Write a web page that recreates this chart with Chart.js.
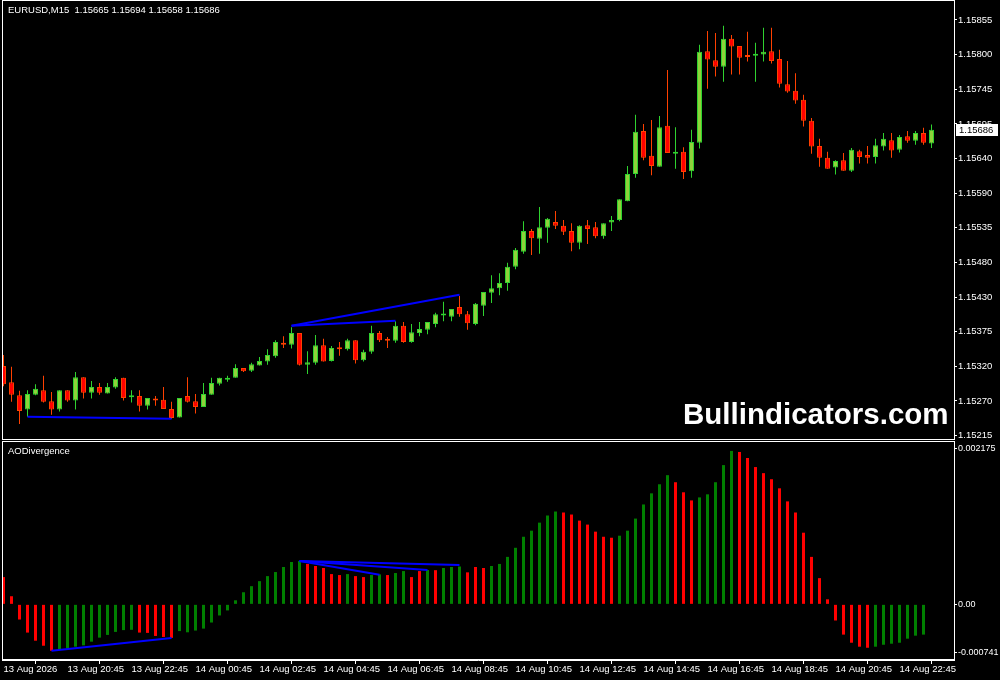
<!DOCTYPE html>
<html lang="en">
<head>
<meta charset="UTF-8">
<title>EURUSD M15 - AODivergence</title>
<script src="https://cdn.jsdelivr.net/npm/chart.js"></script>
<style>
    body { margin: 0; background: #000; }
    #wrap { position: relative; width: 1000px; height: 680px; background: #000; overflow: hidden; }
    #price-chart { position: absolute; left: 0; top: 0; }
    #ao-chart { position: absolute; left: 0; top: 440px; }
</style>
</head>
<body>
<div id="wrap">
    <canvas id="price-chart" width="1000" height="440"></canvas>
    <canvas id="ao-chart" width="1000" height="240"></canvas>
</div>
<script>
// ---- data (bar 0 = 13 Aug 18:45, M15) ----
const symbolTitle = 'EURUSD,M15';
const indicatorName = 'AODivergence';
const watermark = 'Bullindicators.com';

const openPrices = [
    1.15322, 1.15297, 1.15277, 1.15255, 1.15278, 1.15285, 1.15268, 1.15255, 1.15285, 1.15269,
    1.15305, 1.15281, 1.15290, 1.15280, 1.15289, 1.15304, 1.15274, 1.15276, 1.15261, 1.15272,
    1.15270, 1.15256, 1.15243, 1.15276, 1.15268, 1.15259, 1.15278, 1.15295, 1.15301, 1.15304,
    1.15319, 1.15315, 1.15323, 1.15329, 1.15337, 1.15358, 1.15355, 1.15373, 1.15324, 1.15327,
    1.15354, 1.15330, 1.15351, 1.15348, 1.15362, 1.15331, 1.15344, 1.15373, 1.15364, 1.15361,
    1.15384, 1.15359, 1.15373, 1.15378, 1.15387, 1.15400, 1.15398, 1.15413, 1.15402, 1.15387,
    1.15415, 1.15435, 1.15442, 1.15450, 1.15475, 1.15498, 1.15530, 1.15518, 1.15535, 1.15544,
    1.15538, 1.15530, 1.15512, 1.15539, 1.15536, 1.15522, 1.15543, 1.15547, 1.15576, 1.15618,
    1.15684, 1.15646, 1.15629, 1.15692, 1.15649, 1.15652, 1.15622, 1.15666, 1.15807, 1.15793,
    1.15783, 1.15826, 1.15815, 1.15801, 1.15800, 1.15802, 1.15807, 1.15795, 1.15756, 1.15746,
    1.15732, 1.15700, 1.15661, 1.15643, 1.15628, 1.15639, 1.15623, 1.15653, 1.15647, 1.15644,
    1.15660, 1.15670, 1.15655, 1.15676, 1.15669, 1.15681, 1.15665
];
const highPrices = [
    1.15339, 1.15321, 1.15284, 1.15285, 1.15294, 1.15307, 1.15282, 1.15285, 1.15285, 1.15313,
    1.15305, 1.15299, 1.15296, 1.15296, 1.15305, 1.15304, 1.15285, 1.15285, 1.15273, 1.15276,
    1.15290, 1.15267, 1.15273, 1.15305, 1.15279, 1.15296, 1.15304, 1.15304, 1.15307, 1.15325,
    1.15319, 1.15327, 1.15336, 1.15348, 1.15362, 1.15368, 1.15382, 1.15373, 1.15345, 1.15370,
    1.15364, 1.15353, 1.15359, 1.15364, 1.15362, 1.15347, 1.15384, 1.15376, 1.15367, 1.15391,
    1.15390, 1.15387, 1.15390, 1.15390, 1.15404, 1.15421, 1.15410, 1.15430, 1.15407, 1.15419,
    1.15436, 1.15462, 1.15465, 1.15481, 1.15504, 1.15545, 1.15533, 1.15567, 1.15550, 1.15561,
    1.15547, 1.15542, 1.15539, 1.15547, 1.15544, 1.15542, 1.15553, 1.15579, 1.15630, 1.15709,
    1.15695, 1.15701, 1.15707, 1.15778, 1.15690, 1.15659, 1.15686, 1.15817, 1.15838, 1.15835,
    1.15846, 1.15832, 1.15815, 1.15837, 1.15820, 1.15843, 1.15843, 1.15809, 1.15792, 1.15773,
    1.15740, 1.15704, 1.15672, 1.15652, 1.15639, 1.15650, 1.15658, 1.15655, 1.15661, 1.15672,
    1.15681, 1.15681, 1.15678, 1.15684, 1.15684, 1.15689, 1.15694
];
const lowPrices = [
    1.15291, 1.15267, 1.15233, 1.15244, 1.15277, 1.15266, 1.15247, 1.15252, 1.15267, 1.15255,
    1.15272, 1.15272, 1.15278, 1.15280, 1.15287, 1.15269, 1.15266, 1.15252, 1.15255, 1.15261,
    1.15256, 1.15241, 1.15243, 1.15266, 1.15249, 1.15259, 1.15278, 1.15292, 1.15298, 1.15304,
    1.15313, 1.15313, 1.15323, 1.15324, 1.15335, 1.15350, 1.15349, 1.15323, 1.15310, 1.15324,
    1.15329, 1.15329, 1.15338, 1.15346, 1.15326, 1.15329, 1.15341, 1.15359, 1.15350, 1.15358,
    1.15358, 1.15358, 1.15368, 1.15371, 1.15382, 1.15391, 1.15391, 1.15398, 1.15378, 1.15385,
    1.15399, 1.15419, 1.15431, 1.15438, 1.15471, 1.15495, 1.15493, 1.15495, 1.15512, 1.15533,
    1.15524, 1.15499, 1.15502, 1.15510, 1.15519, 1.15518, 1.15530, 1.15545, 1.15576, 1.15612,
    1.15639, 1.15616, 1.15629, 1.15650, 1.15626, 1.15610, 1.15612, 1.15657, 1.15749, 1.15768,
    1.15760, 1.15771, 1.15771, 1.15791, 1.15760, 1.15791, 1.15788, 1.15751, 1.15743, 1.15726,
    1.15691, 1.15649, 1.15629, 1.15626, 1.15617, 1.15623, 1.15621, 1.15634, 1.15634, 1.15634,
    1.15654, 1.15643, 1.15651, 1.15666, 1.15663, 1.15663, 1.15658
];
const closePrices = [
    1.15294, 1.15278, 1.15253, 1.15279, 1.15287, 1.15267, 1.15255, 1.15285, 1.15269, 1.15305,
    1.15281, 1.15290, 1.15281, 1.15290, 1.15302, 1.15273, 1.15275, 1.15261, 1.15273, 1.15269,
    1.15256, 1.15242, 1.15273, 1.15267, 1.15259, 1.15279, 1.15296, 1.15304, 1.15304, 1.15319,
    1.15314, 1.15325, 1.15330, 1.15339, 1.15359, 1.15355, 1.15373, 1.15324, 1.15328, 1.15354,
    1.15329, 1.15350, 1.15348, 1.15362, 1.15331, 1.15344, 1.15373, 1.15362, 1.15361, 1.15384,
    1.15359, 1.15374, 1.15379, 1.15390, 1.15402, 1.15401, 1.15410, 1.15402, 1.15388, 1.15418,
    1.15436, 1.15442, 1.15450, 1.15475, 1.15501, 1.15530, 1.15519, 1.15536, 1.15549, 1.15538,
    1.15529, 1.15512, 1.15538, 1.15533, 1.15522, 1.15542, 1.15547, 1.15579, 1.15618, 1.15683,
    1.15643, 1.15630, 1.15690, 1.15650, 1.15652, 1.15621, 1.15667, 1.15806, 1.15794, 1.15783,
    1.15826, 1.15814, 1.15797, 1.15798, 1.15802, 1.15806, 1.15792, 1.15757, 1.15745, 1.15731,
    1.15700, 1.15660, 1.15643, 1.15626, 1.15638, 1.15623, 1.15655, 1.15644, 1.15643, 1.15662,
    1.15672, 1.15654, 1.15675, 1.15669, 1.15681, 1.15666, 1.15686
];

// Awesome Oscillator histogram, last bar not drawn yet
const aoValues = [
     0.000363,  0.000108, -0.000202, -0.000376, -0.000484, -0.000551, -0.000618, -0.000599, -0.000586, -0.000564,
    -0.000546, -0.000497, -0.000443, -0.000407, -0.000367, -0.000343, -0.000339, -0.000376, -0.000380, -0.000421,
    -0.000434, -0.000447, -0.000356, -0.000372, -0.000349, -0.000323, -0.000242, -0.000148, -0.000081,  0.000054,
     0.000161,  0.000242,  0.000309,  0.000376,  0.000430,  0.000497,  0.000564,  0.000578,  0.000538,  0.000511,
     0.000484,  0.000403,  0.000390,  0.000403,  0.000376,  0.000363,  0.000390,  0.000399,  0.000390,  0.000417,
     0.000443,  0.000363,  0.000443,  0.000457,  0.000455,  0.000484,  0.000497,  0.000504,  0.000426,  0.000497,
     0.000484,  0.000511,  0.000538,  0.000632,  0.000753,  0.000900,  0.000981,  0.001088,  0.001183,  0.001236,
     0.001223,  0.001196,  0.001115,  0.001062,  0.000968,  0.000900,  0.000887,  0.000914,  0.000981,  0.001142,
     0.001330,  0.001478,  0.001599,  0.001720,  0.001626,  0.001492,  0.001384,  0.001424,  0.001465,  0.001626,
     0.001854,  0.002043,  0.002029,  0.001949,  0.001828,  0.001747,  0.001666,  0.001545,  0.001371,  0.001223,
     0.000954,  0.000632,  0.000349,  0.000067, -0.000215, -0.000403, -0.000511, -0.000564, -0.000578, -0.000564,
    -0.000538, -0.000524, -0.000511, -0.000457, -0.000417, -0.000403, null
];
// 1 = green (rising) bar, 0 = red bar, as drawn by the indicator
const aoRising = [
    0, 0, 0, 0, 0, 0, 0, 1, 1, 1,
    1, 1, 1, 1, 1, 1, 1, 0, 0, 0,
    0, 0, 1, 1, 1, 1, 1, 1, 1, 1,
    1, 1, 1, 1, 1, 1, 1, 1, 0, 0,
    0, 0, 0, 1, 0, 0, 1, 1, 0, 1,
    1, 0, 0, 1, 0, 1, 1, 1, 0, 0,
    0, 1, 1, 1, 1, 1, 1, 1, 1, 1,
    0, 0, 0, 0, 0, 0, 0, 1, 1, 1,
    1, 1, 1, 1, 0, 0, 0, 1, 1, 1,
    1, 1, 0, 0, 0, 0, 0, 0, 0, 0,
    0, 0, 0, 0, 0, 0, 0, 0, 0, 1,
    1, 1, 1, 1, 1, 1, null
];

// divergence trend lines: [bar, value] end points
const priceDivLines = [
    [[3, 1.15244], [21, 1.15241]],
    [[36, 1.15384], [57, 1.15432]],
    [[36, 1.15384], [49, 1.15392]]
];
const aoDivLines = [
    [[6, -0.000618], [21, -0.000447]],
    [[37, 0.000578], [57, 0.000525]],
    [[37, 0.000578], [53, 0.000457]],
    [[37, 0.000578], [47, 0.000394]]
];

const priceLabels = ['1.15855', '1.15800', '1.15745', '1.15695', '1.15640', '1.15590', '1.15535',
                     '1.15480', '1.15430', '1.15375', '1.15320', '1.15270', '1.15215'];
const aoLabels = ['0.002175', '0.00', '-0.000741'];
const timeLabels = ['13 Aug 2026', '13 Aug 20:45', '13 Aug 22:45', '14 Aug 00:45', '14 Aug 02:45',
                    '14 Aug 04:45', '14 Aug 06:45', '14 Aug 08:45', '14 Aug 10:45', '14 Aug 12:45',
                    '14 Aug 14:45', '14 Aug 16:45', '14 Aug 18:45', '14 Aug 20:45', '14 Aug 22:45'];
const barsPerTimeLabel = 8;

// axis ranges
const priceMax = 1.158858;
const priceMin = 1.152082;
const aoMax = parseFloat(aoLabels[0]);
const aoMin = parseFloat(aoLabels[2]);
const xMin = -0.1875;
const xMax = 118.8125;

// ---- styling ----
const FONT = '"Liberation Sans", Arial, sans-serif';
const BULL_FILL = '#8fd13b';
const BULL_EDGE = '#2fd22f';
const BEAR_FILL = '#ff0000';
const BEAR_EDGE = '#ff4000';
const AO_UP = '#008000';
const AO_DOWN = '#ff0000';
const DIV_LINE = '#0000ff';

Chart.defaults.font.family = FONT;
Chart.defaults.font.size = 9.5;
Chart.defaults.color = '#ffffff';

const isBull = openPrices.map((o, i) => closePrices[i] >= o);

function lineDatasets(lines) {
    return lines.map(seg => ({
        type: 'line',
        data: seg.map(p => ({ x: p[0], y: p[1] })),
        borderColor: DIV_LINE,
        borderWidth: 2,
        pointRadius: 0,
        fill: false,
        order: 0
    }));
}

// white frame around a panel
const framePlugin = {
    id: 'frame',
    afterDraw(chart) {
        const { ctx, chartArea: a } = chart;
        ctx.save();
        ctx.strokeStyle = '#ffffff';
        ctx.lineWidth = 1;
        ctx.strokeRect(a.left + 0.5, a.top + 0.5, a.right - a.left, a.bottom - a.top - 1);
        ctx.restore();
    }
};

const priceDecor = {
    id: 'priceDecor',
    afterDraw(chart) {
        const ctx = chart.ctx;
        const last = openPrices.length - 1;
        ctx.save();
        // title line with last bar OHLC
        ctx.font = '9.5px ' + FONT;
        ctx.fillStyle = '#ffffff';
        ctx.textBaseline = 'middle';
        ctx.fillText(symbolTitle + '  ' + [openPrices[last], highPrices[last], lowPrices[last], closePrices[last]]
            .map(v => v.toFixed(5)).join(' '), 8, 10);

        // current price marker on the axis
        const y = chart.scales.y.getPixelForValue(closePrices[last]);
        ctx.fillStyle = '#ffffff';
        ctx.fillRect(956, Math.round(y) - 6, 42, 12);
        ctx.fillStyle = '#000000';
        ctx.fillText(closePrices[last].toFixed(5), 959, Math.round(y));

        // watermark
        ctx.font = 'bold 29.5px ' + FONT;
        ctx.fillStyle = '#ffffff';
        ctx.textBaseline = 'alphabetic';
        ctx.fillText(watermark, 683, 424);
        ctx.restore();
    }
};

const aoDecor = {
    id: 'aoDecor',
    afterDraw(chart) {
        const ctx = chart.ctx;
        ctx.save();
        ctx.font = '9.5px ' + FONT;
        ctx.fillStyle = '#ffffff';
        ctx.textBaseline = 'middle';
        ctx.fillText(indicatorName, 8, 11);
        ctx.restore();
    }
};

function rightAxis(min, max, buildTicks, labels, fontSize) {
    return {
        position: 'right',
        min: min,
        max: max,
        afterFit: s => { s.width = 46; s.paddingTop = 0; s.paddingBottom = 0; },
        afterBuildTicks: buildTicks,
        ticks: {
            color: '#ffffff',
            padding: 1,
            autoSkip: false,
            font: { size: fontSize },
            callback: (v, i) => labels[i]
        },
        grid: { drawOnChartArea: false, drawTicks: true, tickLength: 3, color: '#ffffff' },
        border: { display: true, color: '#ffffff' }
    };
}

// ---- price panel ----
new Chart(document.getElementById('price-chart'), {
    type: 'bar',
    data: {
        datasets: [
            ...lineDatasets(priceDivLines),
            {
                label: 'body',
                data: openPrices.map((o, i) => ({ x: i, y: [o, closePrices[i]] })),
                backgroundColor: isBull.map(b => b ? BULL_FILL : BEAR_FILL),
                borderColor: isBull.map(b => b ? BULL_EDGE : BEAR_EDGE),
                borderWidth: 1,
                borderSkipped: false,
                barThickness: 5,
                minBarLength: 2,
                inflateAmount: 0,
                grouped: false,
                order: 1
            },
            {
                label: 'wick',
                data: lowPrices.map((l, i) => ({ x: i, y: [l, highPrices[i]] })),
                backgroundColor: isBull.map(b => b ? BULL_EDGE : BEAR_EDGE),
                borderWidth: 0,
                barThickness: 1,
                inflateAmount: 0,
                grouped: false,
                order: 2
            }
        ]
    },
    options: {
        responsive: false,
        animation: false,
        devicePixelRatio: 1,
        layout: { padding: { left: 2, top: 0, right: 0, bottom: 0 } },
        plugins: { legend: { display: false }, tooltip: { enabled: false } },
        scales: {
            x: { type: 'linear', display: false, min: xMin, max: xMax, offset: false },
            y: rightAxis(priceMin, priceMax, s => {
                const first = parseFloat(priceLabels[0]);
                const last = parseFloat(priceLabels[priceLabels.length - 1]);
                const n = priceLabels.length;
                s.ticks = priceLabels.map((t, k) => ({ value: first + k * (last - first) / (n - 1) }));
            }, priceLabels, 9.5)
        }
    },
    plugins: [framePlugin, priceDecor]
});

// ---- AO panel ----
new Chart(document.getElementById('ao-chart'), {
    type: 'bar',
    data: {
        datasets: [
            ...lineDatasets(aoDivLines),
            {
                label: 'AO',
                data: aoValues.map((v, i) => ({ x: i, y: v })),
                backgroundColor: aoRising.map(r => r ? AO_UP : AO_DOWN),
                borderWidth: 0,
                barThickness: 3,
                inflateAmount: 0,
                grouped: false,
                order: 1
            }
        ]
    },
    options: {
        responsive: false,
        animation: false,
        devicePixelRatio: 1,
        layout: { padding: { left: 2, top: 1, right: 0, bottom: 0 } },
        plugins: { legend: { display: false }, tooltip: { enabled: false } },
        scales: {
            x: {
                type: 'linear',
                min: xMin,
                max: xMax,
                offset: false,
                afterFit: s => { s.height = 20; s.paddingLeft = 0; s.paddingRight = 0; },
                afterBuildTicks: s => {
                    s.ticks = timeLabels.map((t, k) => ({ value: k * barsPerTimeLabel }));
                },
                ticks: {
                    color: '#ffffff',
                    align: 'start',
                    padding: 0,
                    autoSkip: false,
                    maxRotation: 0,
                    callback: (v, i) => timeLabels[i]
                },
                grid: { drawOnChartArea: false, drawTicks: true, tickLength: 4, color: '#ffffff' },
                border: { display: true, color: '#ffffff' }
            },
            y: rightAxis(aoMin, aoMax, s => {
                // the edge labels sit just inside the panel, like MT4 draws them
                const inset = (aoMax - aoMin) * 0.035;
                s.ticks = [{ value: aoMax - inset }, { value: 0 }, { value: aoMin + inset }];
            }, aoLabels, 9)
        }
    },
    plugins: [framePlugin, aoDecor]
});
</script>
</body>
</html>
